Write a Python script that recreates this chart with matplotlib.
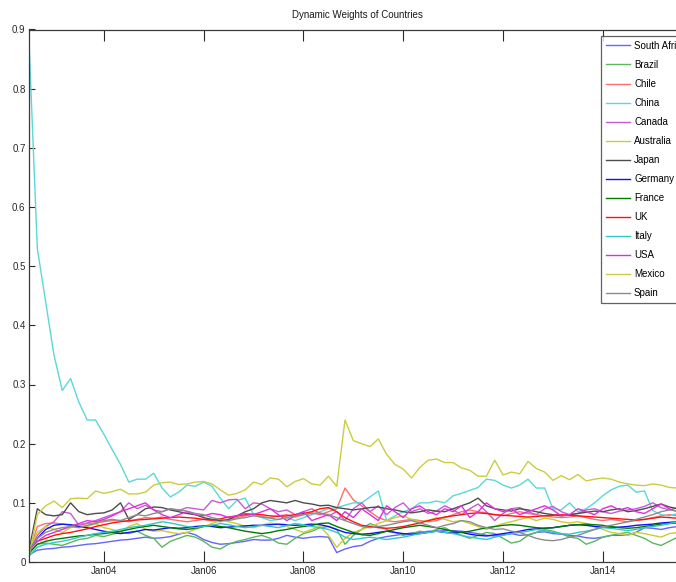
import numpy as np
import matplotlib
matplotlib.use("Agg")
import matplotlib.pyplot as plt

plt.rcParams['font.family'] = ['Liberation Sans', 'DejaVu Sans']

start_year = 2002.5          # Jul 2002, bimonthly samples
step = 1.0 / 6.0

countries = ["South Africa", "Brazil", "Chile", "China", "Canada", "Australia", "Japan",
             "Germany", "France", "UK", "Italy", "USA", "Mexico", "Spain"]

south_africa = [0.012, 0.02, 0.022, 0.023, 0.025, 0.026, 0.028, 0.03, 0.031, 0.033,
                0.035, 0.037, 0.038, 0.04, 0.042, 0.04, 0.041, 0.043, 0.047, 0.05,
                0.046, 0.038, 0.033, 0.03, 0.031, 0.033, 0.035, 0.038, 0.037, 0.037,
                0.04, 0.045, 0.042, 0.04, 0.042, 0.043, 0.042, 0.016, 0.022, 0.026,
                0.028, 0.035, 0.04, 0.043, 0.045, 0.047, 0.049, 0.05, 0.052, 0.052,
                0.053, 0.053, 0.052, 0.05, 0.048, 0.045, 0.044, 0.046, 0.048, 0.045,
                0.046, 0.05, 0.051, 0.048, 0.047, 0.045, 0.044, 0.041, 0.04, 0.042,
                0.045, 0.045, 0.046, 0.05, 0.058, 0.057, 0.055, 0.058, 0.06, 0.06]
brazil = [0.015, 0.03, 0.032, 0.03, 0.028, 0.033, 0.038, 0.04, 0.045, 0.043,
          0.047, 0.05, 0.048, 0.052, 0.045, 0.04, 0.025, 0.035, 0.04, 0.045,
          0.042, 0.035, 0.025, 0.022, 0.03, 0.035, 0.038, 0.042, 0.045, 0.04,
          0.032, 0.03, 0.04, 0.048, 0.052, 0.058, 0.06, 0.055, 0.03, 0.045,
          0.055, 0.065, 0.06, 0.055, 0.05, 0.045, 0.048, 0.052, 0.05, 0.055,
          0.058, 0.05, 0.045, 0.04, 0.045, 0.05, 0.048, 0.04, 0.032, 0.035,
          0.045, 0.05, 0.055, 0.052, 0.048, 0.042, 0.04, 0.03, 0.035, 0.042,
          0.045, 0.048, 0.05, 0.045, 0.04, 0.032, 0.028, 0.035, 0.042, 0.045]
chile = [0.015, 0.06, 0.065, 0.066, 0.064, 0.062, 0.063, 0.065, 0.066, 0.068,
         0.07, 0.07, 0.068, 0.072, 0.075, 0.074, 0.076, 0.072, 0.07, 0.068,
         0.07, 0.072, 0.07, 0.068, 0.072, 0.075, 0.078, 0.08, 0.077, 0.075,
         0.078, 0.08, 0.076, 0.08, 0.083, 0.08, 0.085, 0.09, 0.125, 0.105,
         0.095, 0.085, 0.075, 0.07, 0.068, 0.07, 0.072, 0.07, 0.068, 0.07,
         0.075, 0.08, 0.085, 0.088, 0.085, 0.083, 0.08, 0.078, 0.082, 0.085,
         0.082, 0.08, 0.078, 0.076, 0.075, 0.076, 0.078, 0.075, 0.072, 0.07,
         0.072, 0.07, 0.068, 0.07, 0.072, 0.075, 0.078, 0.08, 0.078, 0.076]
china = [0.88, 0.53, 0.44, 0.35, 0.29, 0.31, 0.27, 0.24, 0.24, 0.216,
         0.19, 0.165, 0.135, 0.14, 0.14, 0.15, 0.125, 0.11, 0.118, 0.13,
         0.128, 0.135, 0.128, 0.108, 0.09, 0.104, 0.108, 0.08, 0.075, 0.07,
         0.072, 0.075, 0.07, 0.075, 0.08, 0.085, 0.09, 0.092, 0.096, 0.1,
         0.1, 0.11, 0.12, 0.07, 0.078, 0.085, 0.09, 0.1, 0.1, 0.103,
         0.1, 0.112, 0.116, 0.121, 0.126, 0.14, 0.138, 0.13, 0.125, 0.13,
         0.14, 0.125, 0.125, 0.09, 0.088, 0.1, 0.085, 0.09, 0.1, 0.112,
         0.122, 0.128, 0.13, 0.118, 0.12, 0.087, 0.08, 0.078, 0.082, 0.083]
canada = [0.02, 0.045, 0.06, 0.068, 0.085, 0.082, 0.062, 0.066, 0.07, 0.075,
          0.08, 0.085, 0.1, 0.09, 0.096, 0.088, 0.085, 0.09, 0.087, 0.092,
          0.09, 0.088, 0.104, 0.1, 0.105, 0.106, 0.09, 0.1, 0.098, 0.09,
          0.085, 0.088, 0.08, 0.085, 0.09, 0.082, 0.078, 0.085, 0.07, 0.09,
          0.1, 0.085, 0.095, 0.08, 0.092, 0.1, 0.085, 0.09, 0.082, 0.086,
          0.095, 0.088, 0.08, 0.09, 0.098, 0.085, 0.07, 0.082, 0.09, 0.092,
          0.085, 0.08, 0.09, 0.094, 0.085, 0.08, 0.082, 0.088, 0.09, 0.085,
          0.082, 0.086, 0.088, 0.09, 0.094, 0.1, 0.092, 0.088, 0.092, 0.095]
australia = [0.02, 0.05, 0.06, 0.055, 0.05, 0.058, 0.062, 0.06, 0.065, 0.058,
             0.055, 0.05, 0.06, 0.065, 0.055, 0.052, 0.053, 0.05, 0.048, 0.05,
             0.055, 0.06, 0.065, 0.07, 0.068, 0.065, 0.06, 0.058, 0.062, 0.066,
             0.063, 0.06, 0.055, 0.05, 0.055, 0.06, 0.045, 0.025, 0.04, 0.05,
             0.055, 0.06, 0.065, 0.07, 0.075, 0.078, 0.072, 0.068, 0.07, 0.075,
             0.072, 0.068, 0.07, 0.065, 0.06, 0.055, 0.06, 0.065, 0.068, 0.072,
             0.075, 0.07, 0.074, 0.072, 0.068, 0.066, 0.068, 0.065, 0.06, 0.055,
             0.05, 0.048, 0.045, 0.05, 0.048, 0.045, 0.042, 0.048, 0.05, 0.052]
japan = [0.02, 0.09, 0.08, 0.078, 0.08, 0.1, 0.085, 0.08, 0.082, 0.083,
         0.088, 0.1, 0.072, 0.08, 0.09, 0.093, 0.092, 0.088, 0.085, 0.082,
         0.08, 0.075, 0.072, 0.07, 0.072, 0.078, 0.085, 0.09, 0.1, 0.104,
         0.102, 0.1, 0.104, 0.1, 0.098, 0.095, 0.096, 0.092, 0.09, 0.088,
         0.09, 0.092, 0.093, 0.09, 0.088, 0.085, 0.083, 0.085, 0.088, 0.086,
         0.085, 0.09, 0.095, 0.1, 0.108, 0.095, 0.09, 0.088, 0.086, 0.09,
         0.088, 0.085, 0.082, 0.08, 0.078, 0.08, 0.082, 0.084, 0.086, 0.085,
         0.088, 0.09, 0.085, 0.087, 0.09, 0.094, 0.098, 0.093, 0.09, 0.088]
germany = [0.02, 0.04, 0.055, 0.062, 0.064, 0.063, 0.06, 0.058, 0.055, 0.052,
           0.05, 0.048, 0.05, 0.052, 0.055, 0.054, 0.056, 0.058, 0.057, 0.058,
           0.06, 0.061, 0.06, 0.058, 0.059, 0.06, 0.061, 0.062, 0.062, 0.063,
           0.064, 0.063, 0.062, 0.063, 0.064, 0.063, 0.06, 0.055, 0.05, 0.048,
           0.047, 0.048, 0.05, 0.052, 0.05, 0.048, 0.047, 0.048, 0.05, 0.052,
           0.05, 0.049, 0.05, 0.047, 0.045, 0.044, 0.046, 0.048, 0.05, 0.052,
           0.055, 0.056, 0.057, 0.058, 0.06, 0.062, 0.063, 0.062, 0.06, 0.059,
           0.058, 0.059, 0.06, 0.062, 0.063, 0.064, 0.066, 0.067, 0.068, 0.068]
france = [0.015, 0.03, 0.035, 0.038, 0.04, 0.042, 0.044, 0.045, 0.047, 0.048,
          0.05, 0.052, 0.055, 0.058, 0.06, 0.062, 0.06, 0.058, 0.056, 0.055,
          0.057, 0.06, 0.062, 0.06, 0.058, 0.055, 0.052, 0.05, 0.048, 0.05,
          0.053, 0.055, 0.058, 0.06, 0.062, 0.065, 0.066, 0.06, 0.055, 0.05,
          0.046, 0.045, 0.048, 0.052, 0.055, 0.058, 0.06, 0.062, 0.06, 0.058,
          0.055, 0.052, 0.05, 0.052, 0.055, 0.058, 0.06, 0.062, 0.063, 0.062,
          0.06, 0.058, 0.057, 0.058, 0.06, 0.062, 0.063, 0.064, 0.063, 0.062,
          0.06, 0.058, 0.057, 0.058, 0.06, 0.062, 0.064, 0.065, 0.066, 0.065]
uk = [0.02, 0.035, 0.04, 0.045, 0.048, 0.05, 0.053, 0.056, 0.06, 0.063,
      0.066, 0.068, 0.07, 0.071, 0.072, 0.073, 0.074, 0.075, 0.076, 0.075,
      0.074, 0.072, 0.071, 0.073, 0.076, 0.078, 0.08, 0.081, 0.08, 0.078,
      0.077, 0.078, 0.08, 0.082, 0.085, 0.09, 0.092, 0.085, 0.075, 0.068,
      0.062, 0.06, 0.058, 0.057, 0.058, 0.06, 0.063, 0.066, 0.07, 0.073,
      0.076, 0.078, 0.08, 0.082, 0.083, 0.082, 0.08, 0.079, 0.078, 0.077,
      0.076, 0.077, 0.078, 0.079, 0.08, 0.079, 0.078, 0.077, 0.076, 0.075,
      0.074, 0.073, 0.072, 0.071, 0.072, 0.074, 0.076, 0.075, 0.074, 0.073]
italy = [0.01, 0.025, 0.03, 0.033, 0.035, 0.038, 0.042, 0.045, 0.048, 0.05,
         0.052, 0.055, 0.058, 0.06, 0.062, 0.065, 0.068, 0.066, 0.063, 0.06,
         0.058, 0.06, 0.062, 0.065, 0.063, 0.06, 0.058, 0.06, 0.062, 0.06,
         0.058, 0.062, 0.065, 0.063, 0.06, 0.058, 0.055, 0.05, 0.042, 0.038,
         0.04, 0.042, 0.04, 0.038, 0.04, 0.042, 0.045, 0.048, 0.05, 0.052,
         0.05, 0.048, 0.045, 0.042, 0.04, 0.038, 0.042, 0.045, 0.048, 0.05,
         0.052, 0.055, 0.053, 0.05, 0.048, 0.047, 0.05, 0.052, 0.055, 0.058,
         0.057, 0.055, 0.053, 0.055, 0.058, 0.06, 0.062, 0.065, 0.068, 0.07]
usa = [0.02, 0.035, 0.045, 0.05, 0.055, 0.06, 0.065, 0.07, 0.068, 0.072,
       0.078, 0.085, 0.09, 0.095, 0.1, 0.088, 0.08, 0.075, 0.08, 0.085,
       0.08, 0.078, 0.082, 0.08, 0.075, 0.078, 0.082, 0.08, 0.085, 0.09,
       0.08, 0.07, 0.078, 0.085, 0.07, 0.075, 0.08, 0.07, 0.085, 0.075,
       0.09, 0.08, 0.07, 0.095, 0.085, 0.075, 0.09, 0.095, 0.085, 0.08,
       0.09, 0.085, 0.095, 0.075, 0.085, 0.1, 0.09, 0.085, 0.09, 0.08,
       0.085, 0.09, 0.095, 0.088, 0.078, 0.08, 0.09, 0.085, 0.08, 0.09,
       0.095, 0.088, 0.092, 0.085, 0.082, 0.09, 0.098, 0.09, 0.085, 0.088]
mexico = [0.01, 0.08, 0.095, 0.103, 0.092, 0.107, 0.108, 0.107, 0.12, 0.116,
          0.119, 0.123, 0.115, 0.115, 0.118, 0.13, 0.134, 0.135, 0.131, 0.132,
          0.135, 0.136, 0.132, 0.122, 0.113, 0.116, 0.122, 0.135, 0.131, 0.142,
          0.14, 0.127, 0.136, 0.141, 0.132, 0.13, 0.145, 0.128, 0.24, 0.205,
          0.2, 0.195, 0.208, 0.182, 0.165, 0.157, 0.142, 0.16, 0.172, 0.174,
          0.168, 0.168, 0.159, 0.155, 0.145, 0.145, 0.172, 0.147, 0.152, 0.149,
          0.17, 0.158, 0.152, 0.138, 0.146, 0.139, 0.148, 0.137, 0.14, 0.142,
          0.14, 0.135, 0.132, 0.13, 0.129, 0.132, 0.13, 0.126, 0.125, 0.125]
spain = [0.02, 0.04, 0.05, 0.055, 0.058, 0.06, 0.058, 0.062, 0.065, 0.07,
         0.072, 0.07, 0.075, 0.08, 0.078, 0.082, 0.085, 0.09, 0.088, 0.086,
         0.082, 0.08, 0.075, 0.072, 0.07, 0.073, 0.075, 0.078, 0.076, 0.074,
         0.072, 0.075, 0.078, 0.08, 0.082, 0.083, 0.08, 0.075, 0.07, 0.065,
         0.06, 0.058, 0.06, 0.062, 0.065, 0.068, 0.07, 0.066, 0.062, 0.058,
         0.062, 0.065, 0.07, 0.068, 0.062, 0.058, 0.055, 0.056, 0.052, 0.05,
         0.045, 0.04, 0.037, 0.036, 0.038, 0.042, 0.045, 0.05, 0.055, 0.06,
         0.062, 0.065, 0.068, 0.072, 0.076, 0.08, 0.085, 0.088, 0.086, 0.085]

series = [south_africa, brazil, chile, china, canada, australia, japan,
          germany, france, uk, italy, usa, mexico, spain]
colors = ['#6464ff', '#5cb85c', '#ff6e6e', '#5ad8d8', '#c75bd6', '#cccc33', '#4d4d4d',
          '#1010f0', '#007a00', '#ff1010', '#30c8c8', '#dd30dd', '#cccc40', '#8c8c8c']

tick_years = [2004, 2006, 2008, 2010, 2012, 2014]
tick_labels = ['Jan04', 'Jan06', 'Jan08', 'Jan10', 'Jan12', 'Jan14']
yticks = [0, 0.1, 0.2, 0.3, 0.4, 0.5, 0.6, 0.7, 0.8, 0.9]
ytick_labels = ['0', '0.1', '0.2', '0.3', '0.4', '0.5', '0.6', '0.7', '0.8', '0.9']

W, H = 676, 582
fig = plt.figure(figsize=(W / 100, H / 100), dpi=100)
ax = fig.add_axes([29 / W, 1 - 562 / H, (686 - 29) / W, (562 - 29.5) / H])

n_max = 0
for name, vals, col in zip(countries, series, colors):
    x = start_year + np.arange(len(vals)) * step
    n_max = max(n_max, len(vals))
    ax.plot(x, vals, color=col, lw=1.0, label=name)

ax.set_xlim(start_year, start_year + (n_max - 1) * step)
ax.set_ylim(0, 0.9)
ax.set_xticks(tick_years)
ax.set_xticklabels(tick_labels)
ax.set_yticks(yticks)
ax.set_yticklabels(ytick_labels)

for s in ax.spines.values():
    s.set_color('#3a3a3a')
    s.set_linewidth(0.9)
ax.tick_params(axis='x', direction='in', length=8, width=0.8, top=True, bottom=True,
               labelsize=7, pad=3, colors='#2a2a2a')
ax.tick_params(axis='y', direction='in', length=4.3, width=0.8, left=True, right=False,
               labelsize=7, pad=2.5, colors='#2a2a2a')

ax.set_title('Dynamic Weights of Countries', fontsize=7, pad=8, color='#1a1a1a')

leg = fig.legend(loc='upper left', bbox_to_anchor=(601 / W, 1 - 36 / H), fontsize=7,
                 frameon=True, fancybox=False, shadow=False, edgecolor='#3a3a3a',
                 handlelength=2.5, handletextpad=0.4, labelspacing=0.93,
                 borderpad=0.5, borderaxespad=0)
leg.get_frame().set_linewidth(0.9)

fig.savefig('out.png', dpi=100)
